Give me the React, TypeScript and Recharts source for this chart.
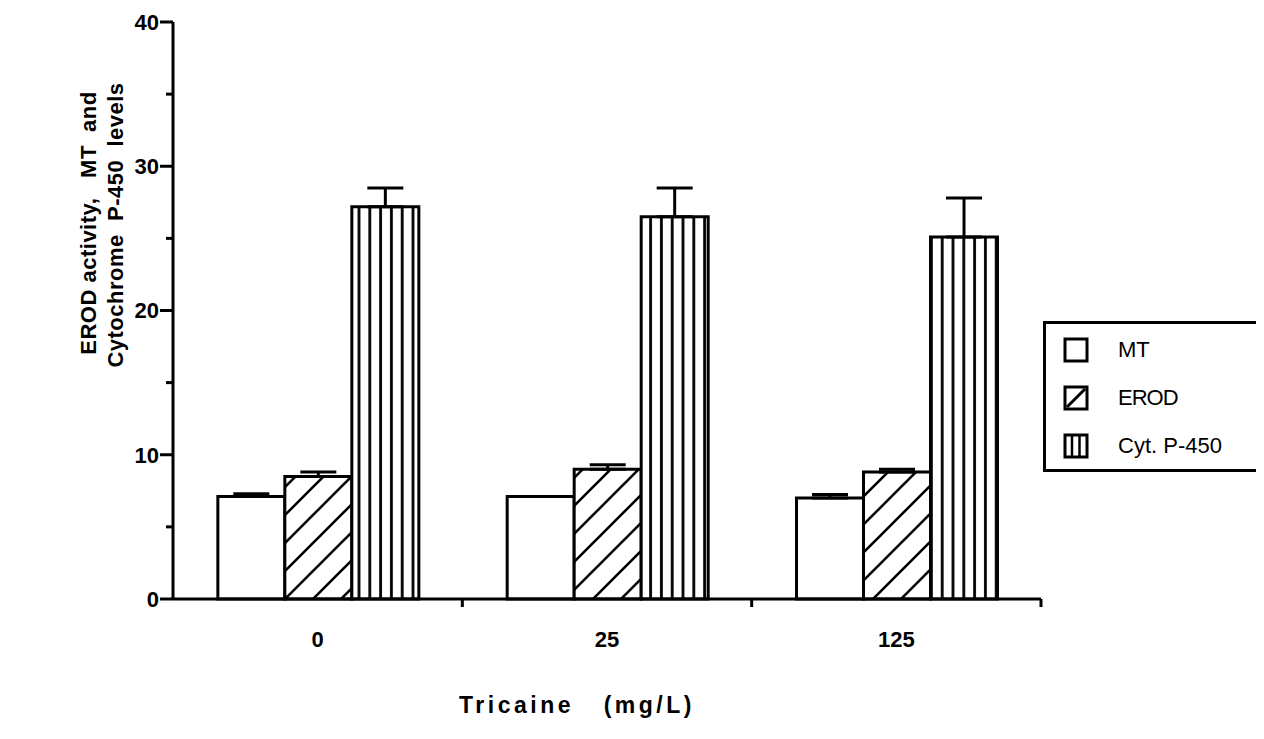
import React from 'react';
import { BarChart, Bar, XAxis, YAxis, ErrorBar } from 'recharts';

const categories = ['0', '25', '125'];
const mtValues = [7.1, 7.1, 7.0];
const mtErrors = [0.2, 0, 0.25];
const erodValues = [8.5, 9.0, 8.8];
const erodErrors = [0.3, 0.3, 0.2];
const cytValues = [27.2, 26.5, 25.1];
const cytErrors = [1.3, 2.0, 2.7];
const yTicks = [0, 5, 10, 15, 20, 25, 30, 35, 40];
const seriesNames = ['MT', 'EROD', 'Cyt. P-450'];

const data = categories.map((c, i) => ({
  dose: c,
  mt: mtValues[i],
  mtErr: [0, mtErrors[i]],
  erod: erodValues[i],
  erodErr: [0, erodErrors[i]],
  cyt: cytValues[i],
  cytErr: [0, cytErrors[i]],
}));

const FONT = '"Liberation Sans", Arial, Helvetica, sans-serif';

const YTick = (props: any) => {
  const { x, y, payload } = props;
  const major = payload.value % 10 === 0;
  return (
    <g>
      <line x1={x - (major ? 13 : 7)} x2={x} y1={y} y2={y} stroke="#000" strokeWidth={3} />
      {major && (
        <text x={x - 14} y={y} dy="0.36em" textAnchor="end" fontFamily={FONT} fontWeight="bold" fontSize={22} fill="#000">
          {payload.value}
        </text>
      )}
    </g>
  );
};

const XTick = (props: any) => {
  const { x, y, payload } = props;
  const half = payload.offset ?? 144.7;
  return (
    <g>
      <line x1={x + half} x2={x + half} y1={y} y2={y + 8} stroke="#000" strokeWidth={3} />
      <text x={x} y={y + 48} textAnchor="middle" fontFamily={FONT} fontWeight="bold" fontSize={22} fill="#000">
        {payload.value}
      </text>
    </g>
  );
};

const LegendBox = () => {
  const swatch = (i: number) => {
    if (i === 0) {
      return <rect x={2} y={2} width={22} height={22} fill="#fff" stroke="#000" strokeWidth={3} />;
    }
    if (i === 1) {
      return (
        <g>
          <rect x={2} y={2} width={22} height={22} fill="#fff" stroke="#000" strokeWidth={3} />
          <line x1={4} y1={22} x2={22} y2={4} stroke="#000" strokeWidth={3} />
        </g>
      );
    }
    return (
      <g>
        <rect x={2} y={2} width={22} height={22} fill="#fff" stroke="#000" strokeWidth={3} />
        <line x1={9} y1={3} x2={9} y2={23} stroke="#000" strokeWidth={2.5} />
        <line x1={16.5} y1={3} x2={16.5} y2={23} stroke="#000" strokeWidth={2.5} />
      </g>
    );
  };
  return (
    <div
      style={{
        position: 'absolute',
        left: 1035,
        top: 313,
        borderTop: '3px solid #000',
        borderLeft: '3px solid #000',
        borderBottom: '3px solid #000',
        borderRight: 'none',
        width: 260,
        height: 145,
        boxSizing: 'content-box',
        fontFamily: FONT,
        background: '#fff',
      }}
    >
      {seriesNames.map((n, i) => (
        <div key={n} style={{ position: 'absolute', left: 17, top: 13 + i * 48, height: 26, display: 'flex', alignItems: 'center' }}>
          <svg width={26} height={26} style={{ display: 'block' }}>{swatch(i)}</svg>
          <span style={{ marginLeft: 29, fontSize: 22, color: '#000', whiteSpace: 'nowrap', letterSpacing: i === 1 ? -1 : 0 }}>{n}</span>
        </div>
      ))}
    </div>
  );
};

export default function App() {
  return (
    <div style={{ width: 1256, height: 723, background: '#fff', position: 'relative', overflow: 'hidden' }}>
      <BarChart
        width={1256}
        height={723}
        data={data}
        margin={{ top: 14, right: 223, left: 0, bottom: 72 }}
        barCategoryGap="15.5%"
        barGap={0}
        style={{ fontFamily: FONT }}
      >
        <defs>
          <pattern id="vertHatch" patternUnits="userSpaceOnUse" width={10.8} height={20}>
            <rect x={0} y={0} width={10.8} height={20} fill="#fff" />
            <line x1={5.4} y1={0} x2={5.4} y2={20} stroke="#000" strokeWidth={2.8} />
          </pattern>
          <pattern id="diagHatch" patternUnits="userSpaceOnUse" width={28} height={28}>
            <rect x={0} y={0} width={28} height={28} fill="#fff" />
            <path d="M-2,30 L30,-2 M-4,4 L4,-4 M24,32 L32,24" stroke="#000" strokeWidth={2.6} />
          </pattern>
        </defs>
        <XAxis
          dataKey="dose"
          height={60}
          axisLine={{ stroke: '#000', strokeWidth: 3 }}
          tickLine={false}
          tickSize={0}
          tickMargin={0}
          tick={<XTick />}
          interval={0}
        />
        <YAxis
          width={165}
          domain={[0, 40]}
          ticks={yTicks}
          interval={0}
          axisLine={{ stroke: '#000', strokeWidth: 3 }}
          tickLine={false}
          tickSize={0}
          tickMargin={0}
          tick={<YTick />}
        />
        <Bar dataKey="mt" name="MT" fill="#fff" stroke="#000" strokeWidth={3} isAnimationActive={false}>
          <ErrorBar dataKey="mtErr" direction="y" width={18} stroke="#000" strokeWidth={3} />
        </Bar>
        <Bar dataKey="erod" name="EROD" fill="url(#diagHatch)" stroke="#000" strokeWidth={3} isAnimationActive={false}>
          <ErrorBar dataKey="erodErr" direction="y" width={18} stroke="#000" strokeWidth={3} />
        </Bar>
        <Bar dataKey="cyt" name="Cyt. P-450" fill="url(#vertHatch)" stroke="#000" strokeWidth={3} isAnimationActive={false}>
          <ErrorBar dataKey="cytErr" direction="y" width={18} stroke="#000" strokeWidth={3} />
        </Bar>
        <text
          transform="translate(80,215) rotate(-90)"
          textAnchor="middle"
          dominantBaseline="central"
          fontFamily={FONT}
          fontWeight="bold"
          fontSize={22}
          letterSpacing={0.5}
          style={{ whiteSpace: 'pre' }}
          fill="#000"
        >
          {'EROD activity,   MT  and'}
        </text>
        <text
          transform="translate(107,217) rotate(-90)"
          textAnchor="middle"
          dominantBaseline="central"
          fontFamily={FONT}
          fontWeight="bold"
          fontSize={22}
          letterSpacing={0.5}
          style={{ whiteSpace: 'pre' }}
          fill="#000"
        >
          {'Cytochrome  P-450  levels'}
        </text>
        <text
          x={569}
          y={697}
          textAnchor="middle"
          dominantBaseline="central"
          fontFamily={FONT}
          fontWeight="900"
          fontSize={23}
          letterSpacing={3.5}
          style={{ whiteSpace: 'pre' }}
          fill="#000"
        >
          {'Tricaine   (mg/L)'}
        </text>
      </BarChart>
      <LegendBox />
    </div>
  );
}
